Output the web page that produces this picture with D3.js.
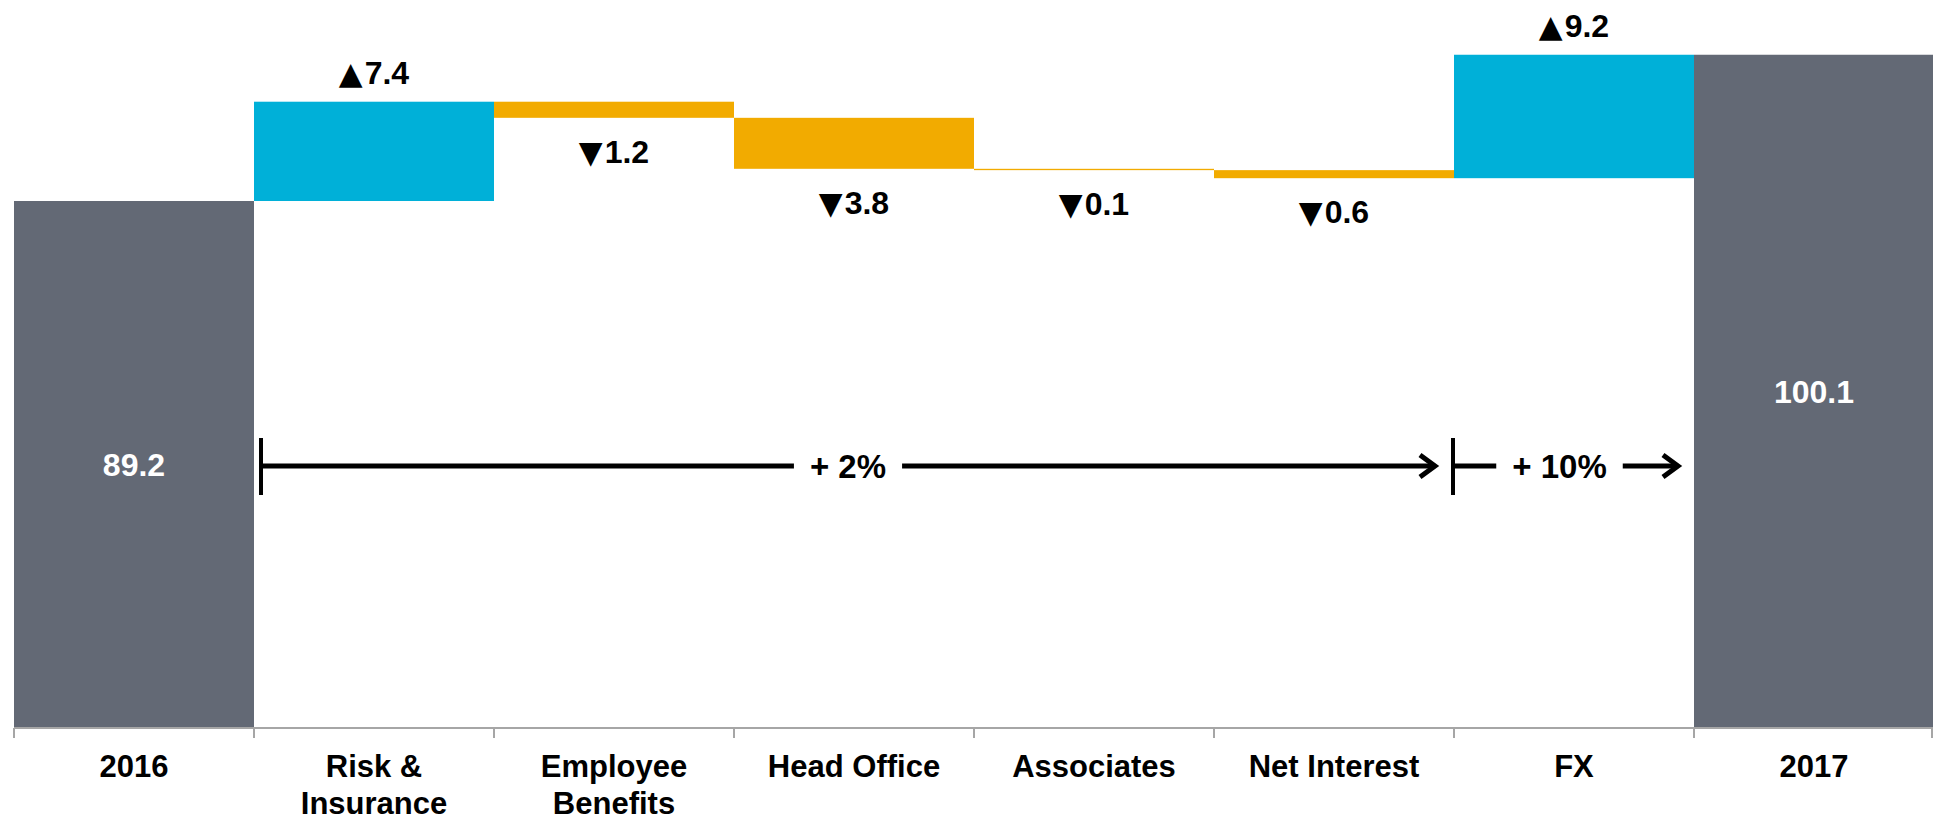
<!DOCTYPE html>
<html>
<head>
<meta charset="utf-8">
<title>Waterfall 2016 - 2017</title>
<script src="https://d3js.org/d3.v7.min.js"></script>
<style>
  body { margin: 0; background: #fff; }
  text { font-family: "Liberation Sans", Arial, sans-serif; font-weight: bold; }
</style>
</head>
<body>
<script>
// chart values
var categories = ["2016", "Risk & Insurance", "Employee Benefits", "Head Office", "Associates", "Net Interest", "FX", "2017"];
var tickLines = [["2016"], ["Risk &", "Insurance"], ["Employee", "Benefits"], ["Head Office"], ["Associates"], ["Net Interest"], ["FX"], ["2017"]];
var startValue = 89.2;
var endValue = 100.1;
var changes = [7.4, -1.2, -3.8, -0.1, -0.6, 9.2];
// growth brackets (from category, to category, label)
var growthFrom = ["Risk & Insurance", "FX"];
var growthTo = ["FX", "2017"];
var growthLabels = ["+ 2%", "+ 10%"];

var W = 1933, H = 820;
var gray = "#636975", blue = "#00B0D8", orange = "#F2AB00";

var svg = d3.select("body").append("svg")
    .attr("width", W)
    .attr("height", H);

var x = d3.scaleBand()
    .domain(categories)
    .range([14, 1934])
    .padding(0);

var y = d3.scaleLinear()
    .domain([50, 105])
    .range([727, -11]);

// build the waterfall rows
var rows = [];
rows.push({cat: categories[0], lo: 50, hi: startValue, kind: "total", value: startValue});
var run = startValue;
changes.forEach(function(c, i) {
  var next = run + c;
  rows.push({cat: categories[i + 1], lo: Math.min(run, next), hi: Math.max(run, next), kind: c >= 0 ? "up" : "down", value: c});
  run = next;
});
rows.push({cat: categories[categories.length - 1], lo: 50, hi: endValue, kind: "total", value: endValue});

var colour = {total: gray, up: blue, down: orange};

svg.selectAll("rect.bar")
  .data(rows)
  .enter().append("rect")
    .attr("class", "bar")
    .attr("x", function(d) { return x(d.cat); })
    .attr("width", x.bandwidth())
    .attr("y", function(d) { return y(d.hi); })
    .attr("height", function(d) { return Math.max(1, y(d.lo) - y(d.hi)); })
    .style("fill", function(d) { return colour[d.kind]; });

// totals inside the bars
svg.selectAll("text.total")
  .data(rows.filter(function(d) { return d.kind == "total"; }))
  .enter().append("text")
    .attr("class", "total")
    .attr("x", function(d) { return x(d.cat) + x.bandwidth() / 2; })
    .attr("y", function(d) { return (y(d.hi) + y(d.lo)) / 2 + 12; })
    .attr("text-anchor", "middle")
    .style("fill", "#fff")
    .style("font-size", "32px")
    .text(function(d) { return d.value.toFixed(1); });

// change labels
var delta = svg.selectAll("text.delta")
  .data(rows.filter(function(d) { return d.kind != "total"; }))
  .enter().append("text")
    .attr("class", "delta")
    .attr("x", function(d) { return x(d.cat) + x.bandwidth() / 2; })
    .attr("y", function(d) { return d.kind == "up" ? y(d.hi) - 18 : y(d.lo) + 45; })
    .attr("text-anchor", "middle")
    .style("font-size", "32px")
    .style("fill", "#000");
delta.append("tspan")
    .style("font-family", "'DejaVu Sans'")
    .style("font-size", "31px")
    .text(function(d) { return d.kind == "up" ? "\u25B2" : "\u25BC"; });
delta.append("tspan")
    .attr("dx", 2)
    .text(function(d) { return Math.abs(d.value).toFixed(1); });

// x axis: line with ticks on the band edges
var axisY = 728;
svg.append("line")
    .attr("x1", 14).attr("x2", W)
    .attr("y1", axisY).attr("y2", axisY)
    .style("stroke", "#a6a6a6").style("stroke-width", 2);
var edges = categories.map(function(c) { return x(c); }).concat([x.range()[1] - 2]);
svg.selectAll("line.tick")
  .data(edges)
  .enter().append("line")
    .attr("class", "tick")
    .attr("x1", function(d) { return d; }).attr("x2", function(d) { return d; })
    .attr("y1", axisY).attr("y2", axisY + 10)
    .style("stroke", "#a6a6a6").style("stroke-width", 2);

var lab = svg.selectAll("text.cat")
  .data(categories)
  .enter().append("text")
    .attr("class", "cat")
    .attr("x", function(d) { return x(d) + x.bandwidth() / 2; })
    .attr("y", 777)
    .attr("text-anchor", "middle")
    .style("font-size", "31px")
    .style("fill", "#000");
lab.selectAll("tspan")
  .data(function(d, i) { return tickLines[i]; })
  .enter().append("tspan")
    .attr("x", function() { return d3.select(this.parentNode).attr("x"); })
    .attr("dy", function(d, i) { return i == 0 ? 0 : 37; })
    .text(function(d) { return d; });

// growth brackets
var arrowY = 466;
growthLabels.forEach(function(t, i) {
  var x0 = i == 0 ? x(growthFrom[i]) + 7 : x(growthFrom[i]) - 1;
  var x1 = i == 0 ? x(growthTo[i]) - 19 : x(growthTo[i]) - 16;
  var g = svg.append("g");
  g.append("line")
      .attr("x1", x0).attr("x2", x0)
      .attr("y1", arrowY - 28).attr("y2", arrowY + 29)
      .style("stroke", "#000").style("stroke-width", 4);
  g.append("line")
      .attr("x1", x0).attr("x2", x1 - 3)
      .attr("y1", arrowY).attr("y2", arrowY)
      .style("stroke", "#000").style("stroke-width", 5);
  g.append("path")
      .attr("d", "M" + (x1 - 15) + "," + (arrowY - 11) + "L" + x1 + "," + arrowY + "L" + (x1 - 15) + "," + (arrowY + 11))
      .style("fill", "none").style("stroke", "#000").style("stroke-width", 5);
  var label = g.append("text")
      .attr("x", (x0 + x1) / 2 - (i == 0 ? 0 : 6))
      .attr("y", arrowY + 12)
      .attr("text-anchor", "middle")
      .style("font-size", "33px")
      .text(t);
  var bb = label.node().getBBox();
  g.insert("rect", "text")
      .attr("x", bb.x - 16).attr("width", bb.width + 32)
      .attr("y", arrowY - 5).attr("height", 10)
      .style("fill", "#fff");
});
</script>
</body>
</html>
